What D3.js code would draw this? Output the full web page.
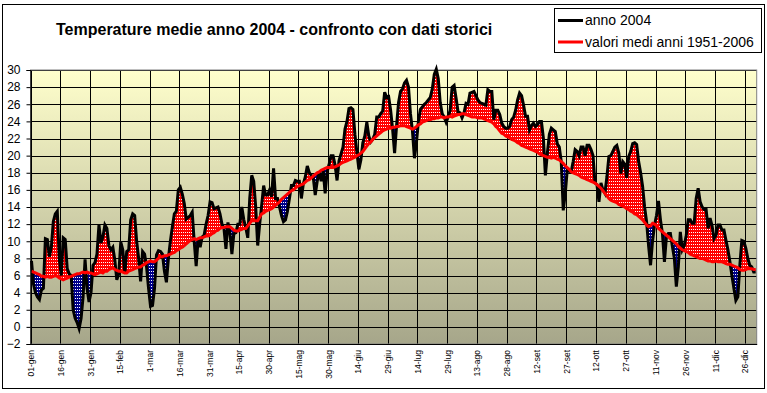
<!DOCTYPE html>
<html>
<head>
<meta charset="utf-8">
<script src="https://cdn.jsdelivr.net/npm/d3@7"></script>
<style>
  body { margin: 0; background: #fff; }
  svg text { font-family: "Liberation Sans", Arial, sans-serif; fill: #000; }
</style>
</head>
<body>
<svg id="chart" width="767" height="393"></svg>
<script>
// temperature medie giornaliere 2004 (una per giorno, 366 giorni)
const temp2004 = [
  7.7, 5.0, 4.0, 3.5, 3.2, 4.3, 4.5, 10.3, 10.2, 8.2,
  9.3, 12.3, 13.2, 13.5, 8.0, 6.0, 10.4, 10.2, 6.8, 6.2,
  6.0, 2.0, 1.0, 0.5, -0.2, 1.0, 3.5, 7.9, 4.5, 2.9,
  4.0, 7.2, 7.5, 8.5, 11.9, 9.8, 10.5, 11.9, 11.5, 9.5,
  9.0, 9.3, 7.8, 5.5, 6.2, 9.9, 9.0, 6.2, 8.8, 9.0,
  12.5, 13.2, 13.0, 10.0, 8.0, 5.3, 8.8, 8.5, 7.0, 4.5,
  2.4, 2.5, 4.5, 8.4, 8.9, 8.8, 8.5, 6.5, 5.2, 8.0,
  10.0, 11.7, 13.2, 13.5, 16.0, 16.3, 15.5, 14.4, 12.6, 12.8,
  13.0, 13.4, 10.0, 7.1, 10.3, 9.3, 10.5, 10.7, 12.0, 13.0,
  14.6, 14.5, 13.8, 13.9, 14.0, 13.2, 12.0, 11.5, 9.1, 12.2,
  11.0, 8.5, 10.9, 11.0, 12.0, 12.0, 14.0, 12.5, 11.6, 10.4,
  15.0, 17.7, 17.0, 14.0, 9.5, 12.0, 14.2, 16.5, 15.4, 15.4,
  16.0, 15.2, 18.5, 15.0, 15.0, 14.0, 13.0, 12.3, 12.5, 13.5,
  15.0, 16.5, 16.5, 17.1, 17.0, 17.0, 15.0, 16.7, 17.5, 18.8,
  18.0, 17.7, 17.5, 15.4, 17.0, 18.1, 17.0, 18.3, 15.6, 18.1,
  19.0, 20.0, 20.0, 18.9, 17.1, 19.4, 20.2, 21.0, 23.1, 24.0,
  25.5, 25.6, 25.4, 22.5, 20.4, 18.4, 19.5, 21.5, 22.3, 23.9,
  22.3, 21.6, 21.9, 22.5, 24.5, 24.5, 24.9, 25.2, 27.4, 26.8,
  26.9, 25.3, 23.1, 20.3, 23.5, 26.2, 27.5, 27.8, 28.5, 28.8,
  28.0, 24.9, 22.9, 19.7, 21.5, 24.0, 25.4, 25.7, 26.0, 26.2,
  26.5, 26.8, 27.8, 29.5, 30.1, 29.0, 26.2, 24.9, 24.5, 23.9,
  24.5, 25.3, 28.0, 28.2, 26.7, 25.1, 25.0, 24.4, 25.0, 26.1,
  26.0, 27.3, 27.4, 27.5, 27.0, 26.5, 26.2, 26.1, 26.0, 25.9,
  27.7, 27.5, 27.5, 24.2, 25.3, 25.3, 24.8, 23.8, 23.4, 23.2,
  23.2, 23.4, 24.2, 24.5, 25.3, 26.5, 27.3, 27.0, 25.9, 24.6,
  24.6, 23.0, 23.5, 23.8, 23.4, 23.6, 24.0, 24.0, 22.0, 17.7,
  20.3, 22.5, 23.2, 23.0, 22.8, 21.4, 21.0, 19.3, 13.6, 15.5,
  18.3, 18.2, 18.1, 19.3, 20.7, 20.5, 20.0, 21.0, 21.0, 20.0,
  21.2, 21.2, 20.7, 20.0, 16.8, 16.6, 14.6, 16.8, 16.0, 15.6,
  17.5, 19.9, 20.0, 20.5, 21.0, 21.2, 20.3, 17.9, 19.3, 19.0,
  17.4, 19.9, 20.5, 21.4, 21.5, 21.3, 19.3, 18.0, 16.4, 14.0,
  12.3, 9.5, 7.2, 10.0, 11.9, 13.0, 14.7, 12.5, 10.9, 7.6,
  10.5, 10.9, 10.9, 9.4, 8.0, 4.7, 7.0, 11.1, 9.0, 9.5,
  10.7, 12.5, 12.5, 12.1, 12.1, 15.0, 16.2, 14.6, 14.0, 13.7,
  13.7, 11.5, 12.7, 11.8, 10.3, 10.7, 11.9, 11.9, 11.3, 11.3,
  10.1, 9.0, 7.6, 6.0, 4.5, 3.1, 3.5, 7.2, 10.1, 10.0,
  9.2, 8.0, 7.2, 7.0, 6.4, 6.4
];

// valori medi 1951-2006 per giorno
const tempMedia = [
  6.5, 6.4, 6.3, 6.2, 6.1, 5.9, 5.9, 5.8, 5.9, 5.8,
  5.8, 5.9, 6.0, 5.9, 5.7, 5.6, 5.5, 5.6, 5.7, 5.8,
  5.9, 6.0, 6.1, 6.2, 6.2, 6.3, 6.4, 6.3, 6.4, 6.3,
  6.3, 6.2, 6.1, 6.2, 6.3, 6.4, 6.3, 6.5, 6.5, 6.7,
  6.8, 6.9, 6.7, 6.6, 6.5, 6.5, 6.4, 6.3, 6.3, 6.5,
  6.6, 6.7, 6.8, 6.9, 7.0, 7.0, 7.2, 7.3, 7.5, 7.6,
  7.7, 7.6, 7.6, 7.8, 8.0, 8.2, 8.2, 8.3, 8.3, 8.4,
  8.5, 8.6, 8.7, 8.9, 9.0, 9.2, 9.3, 9.5, 9.7, 9.9,
  10.1, 10.2, 10.3, 10.2, 10.3, 10.4, 10.4, 10.5, 10.6, 10.6,
  10.7, 10.9, 11.0, 11.2, 11.3, 11.5, 11.6, 11.6, 11.7, 11.7,
  11.7, 11.5, 11.3, 11.2, 11.2, 11.3, 11.4, 11.5, 11.5, 11.8,
  12.1, 12.4, 12.4, 12.4, 12.4, 12.8, 13.2, 13.3, 13.5, 13.6,
  13.7, 13.8, 14.0, 14.2, 14.4, 14.6, 14.9, 15.1, 15.3, 15.5,
  15.7, 15.9, 16.0, 16.2, 16.4, 16.5, 16.6, 16.7, 16.9, 17.1,
  17.2, 17.4, 17.6, 17.8, 18.0, 18.1, 18.3, 18.4, 18.5, 18.6,
  18.6, 18.6, 18.6, 18.7, 18.8, 18.9, 19.1, 19.2, 19.3, 19.4,
  19.5, 19.6, 19.7, 19.8, 20.0, 20.1, 20.3, 20.5, 20.8, 21.1,
  21.4, 21.6, 21.9, 22.1, 22.3, 22.5, 22.7, 22.9, 23.0, 23.1,
  23.2, 23.2, 23.3, 23.3, 23.4, 23.4, 23.5, 23.5, 23.5, 23.4,
  23.3, 23.2, 23.1, 23.2, 23.4, 23.6, 23.7, 23.9, 24.0, 24.1,
  24.2, 24.2, 24.3, 24.3, 24.4, 24.4, 24.5, 24.5, 24.4, 24.5,
  24.5, 24.6, 24.5, 24.6, 24.7, 24.8, 24.8, 24.9, 24.9, 24.8,
  24.7, 24.6, 24.5, 24.5, 24.5, 24.4, 24.4, 24.4, 24.3, 24.2,
  24.1, 24.0, 23.9, 23.7, 23.4, 23.2, 22.9, 22.6, 22.5, 22.3,
  22.2, 22.1, 21.9, 21.8, 21.7, 21.5, 21.4, 21.2, 21.1, 21.0,
  20.9, 20.8, 20.7, 20.6, 20.5, 20.4, 20.2, 20.1, 20.0, 19.9,
  19.8, 19.8, 19.7, 19.8, 19.7, 19.6, 19.5, 19.3, 19.1, 18.8,
  18.6, 18.4, 18.1, 18.0, 17.9, 17.8, 17.7, 17.5, 17.4, 17.3,
  17.2, 17.1, 17.0, 16.9, 16.8, 16.6, 16.4, 16.2, 15.9, 15.6,
  15.3, 15.0, 14.8, 14.7, 14.6, 14.5, 14.3, 14.2, 14.1, 14.0,
  13.8, 13.7, 13.5, 13.4, 13.2, 13.1, 12.9, 12.7, 12.5, 12.2,
  11.9, 11.7, 11.8, 12.1, 12.0, 11.8, 11.5, 11.3, 11.1, 10.9,
  10.7, 10.5, 10.3, 10.1, 9.9, 9.7, 9.4, 9.2, 9.0, 8.9,
  8.8, 8.7, 8.5, 8.4, 8.3, 8.2, 8.1, 8.0, 8.0, 7.9,
  7.8, 7.7, 7.7, 7.6, 7.6, 7.7, 7.6, 7.6, 7.6, 7.5,
  7.4, 7.3, 7.3, 7.2, 7.1, 7.0, 6.9, 6.7, 6.6, 6.6,
  6.7, 6.8, 6.8, 6.8, 6.7, 6.7
];

const tickLabels = [
  '01-gen', '16-gen', '31-gen', '15-feb', '1-mar', '16-mar', '31-mar',
  '15-apr', '30-apr', '15-mag', '30-mag', '14-giu', '29-giu', '14-lug',
  '29-lug', '13-ago', '28-ago', '12-set', '27-set', '12-ott', '27-ott',
  '11-nov', '26-nov', '11-dic', '26-dic'
];
const yTickValues = [-2, 0, 2, 4, 6, 8, 10, 12, 14, 16, 18, 20, 22, 24, 26, 28, 30];

const titleText = 'Temperature medie anno 2004 - confronto con dati storici';
const legendItems = [
  { label: 'anno 2004', color: '#000' },
  { label: 'valori medi anni 1951-2006', color: '#ff0000' }
];

const plot = { left: 30.5, right: 756.7, top: 70, bottom: 344 };
const svg = d3.select('#chart');
const nDays = temp2004.length;
const tickEvery = 15;

const x = d3.scaleLinear().domain([0, nDays]).range([plot.left, plot.right]);
const y = d3.scaleLinear().domain([-2, 30]).range([plot.bottom, plot.top]);
const xc = i => x(i + 0.5);

// outer frame
svg.append('rect')
  .attr('x', 2.5).attr('y', 4.5)
  .attr('width', 762).attr('height', 384)
  .attr('fill', '#fff').attr('stroke', '#000');

const defs = svg.append('defs');

const grad = defs.append('linearGradient')
  .attr('id', 'bg').attr('x1', 0).attr('y1', 0).attr('x2', 0).attr('y2', 1);
grad.append('stop').attr('offset', '0%').attr('stop-color', '#ffffcc');
grad.append('stop').attr('offset', '100%').attr('stop-color', '#a6a68a');

function dotPattern(id, color) {
  const p = defs.append('pattern')
    .attr('id', id).attr('patternUnits', 'userSpaceOnUse')
    .attr('width', 2).attr('height', 3);
  p.append('rect').attr('width', 2).attr('height', 3).attr('fill', color);
  p.append('rect').attr('x', 1).attr('y', 1).attr('width', 1).attr('height', 1).attr('fill', '#fff');
}
dotPattern('dotsRed', '#ff0000');
dotPattern('dotsBlue', '#00008b');

const idx = d3.range(nDays);

defs.append('clipPath').attr('id', 'aboveMean')
  .append('path')
  .attr('d', d3.area().x(xc).y0(plot.top - 10).y1(i => y(tempMedia[i]))(idx));
defs.append('clipPath').attr('id', 'belowMean')
  .append('path')
  .attr('d', d3.area().x(xc).y0(i => y(tempMedia[i])).y1(plot.bottom + 10)(idx));

// plot background
svg.append('rect')
  .attr('x', plot.left).attr('y', plot.top)
  .attr('width', plot.right - plot.left).attr('height', plot.bottom - plot.top)
  .attr('fill', 'url(#bg)');

// gridlines
const grid = svg.append('g').attr('stroke', '#000').attr('stroke-width', 1);
grid.selectAll('.hgrid')
  .data(yTickValues)
  .join('line')
  .attr('class', 'hgrid')
  .attr('x1', plot.left).attr('x2', plot.right)
  .attr('y1', d => Math.round(y(d)) + 0.5).attr('y2', d => Math.round(y(d)) + 0.5);
grid.selectAll('.vgrid')
  .data(tickLabels.map((d, i) => i * tickEvery))
  .join('line')
  .attr('class', 'vgrid')
  .attr('x1', d => Math.round(x(d)) + 0.5).attr('x2', d => Math.round(x(d)) + 0.5)
  .attr('y1', plot.top).attr('y2', plot.bottom);

svg.append('rect')
  .attr('x', plot.left).attr('y', plot.top)
  .attr('width', plot.right - plot.left).attr('height', plot.bottom - plot.top)
  .attr('fill', 'none').attr('stroke', '#808080');

// difference areas
const between = d3.area().x(xc).y0(i => y(tempMedia[i])).y1(i => y(temp2004[i]));

svg.append('path')
  .attr('d', between(idx))
  .attr('fill', 'url(#dotsRed)')
  .attr('clip-path', 'url(#aboveMean)');
svg.append('path')
  .attr('d', between(idx))
  .attr('fill', 'url(#dotsBlue)')
  .attr('clip-path', 'url(#belowMean)');

// lines
svg.append('path')
  .attr('d', d3.line().x(xc).y(i => y(temp2004[i]))(idx))
  .attr('fill', 'none').attr('stroke', '#000').attr('stroke-width', 3)
  .attr('stroke-linejoin', 'miter');
svg.append('path')
  .attr('d', d3.line().x(xc).y(i => y(tempMedia[i]))(idx))
  .attr('fill', 'none').attr('stroke', '#ff0000').attr('stroke-width', 3);

// axes
const yAxis = d3.axisLeft(y).tickValues(yTickValues).tickSize(4).tickPadding(6).tickFormat(d3.format('d'));
const gy = svg.append('g').attr('transform', `translate(${plot.left},0)`).call(yAxis);
gy.select('.domain').attr('stroke', '#000');
gy.selectAll('text').style('font-size', '12px').attr('fill', '#000');

const xAxis = d3.axisBottom(x)
  .tickValues(tickLabels.map((d, i) => i * tickEvery))
  .tickSize(0)
  .tickFormat((d, i) => tickLabels[i]);
const gx = svg.append('g').attr('transform', `translate(0,${plot.bottom})`).call(xAxis);
gx.select('.domain').attr('stroke', '#000');
gx.selectAll('text')
  .attr('transform', 'rotate(-90)')
  .attr('text-anchor', 'end')
  .attr('x', -6).attr('y', 0).attr('dy', '0.35em')
  .style('font-family', '"Liberation Sans Narrow", "Arial Narrow", Arial, sans-serif')
  .style('font-size', '8.5px')
  .attr('fill', '#000');

// title
svg.append('text')
  .attr('x', 56).attr('y', 35)
  .style('font-size', '16px').style('font-weight', 'bold')
  .text(titleText);

// legend
const legend = svg.append('g');
legend.append('rect')
  .attr('x', 554.5).attr('y', 8.5).attr('width', 207).attr('height', 44)
  .attr('fill', '#fff').attr('stroke', '#000');
const rows = legend.selectAll('.row').data(legendItems).join('g')
  .attr('class', 'row')
  .attr('transform', (d, i) => `translate(0,${20.5 + i * 21.5})`);
rows.append('line')
  .attr('x1', 558).attr('x2', 583)
  .attr('stroke', d => d.color).attr('stroke-width', 3);
rows.append('text')
  .attr('x', 585).attr('dy', '0.35em')
  .style('font-size', '14px')
  .text(d => d.label);
</script>
</body>
</html>
